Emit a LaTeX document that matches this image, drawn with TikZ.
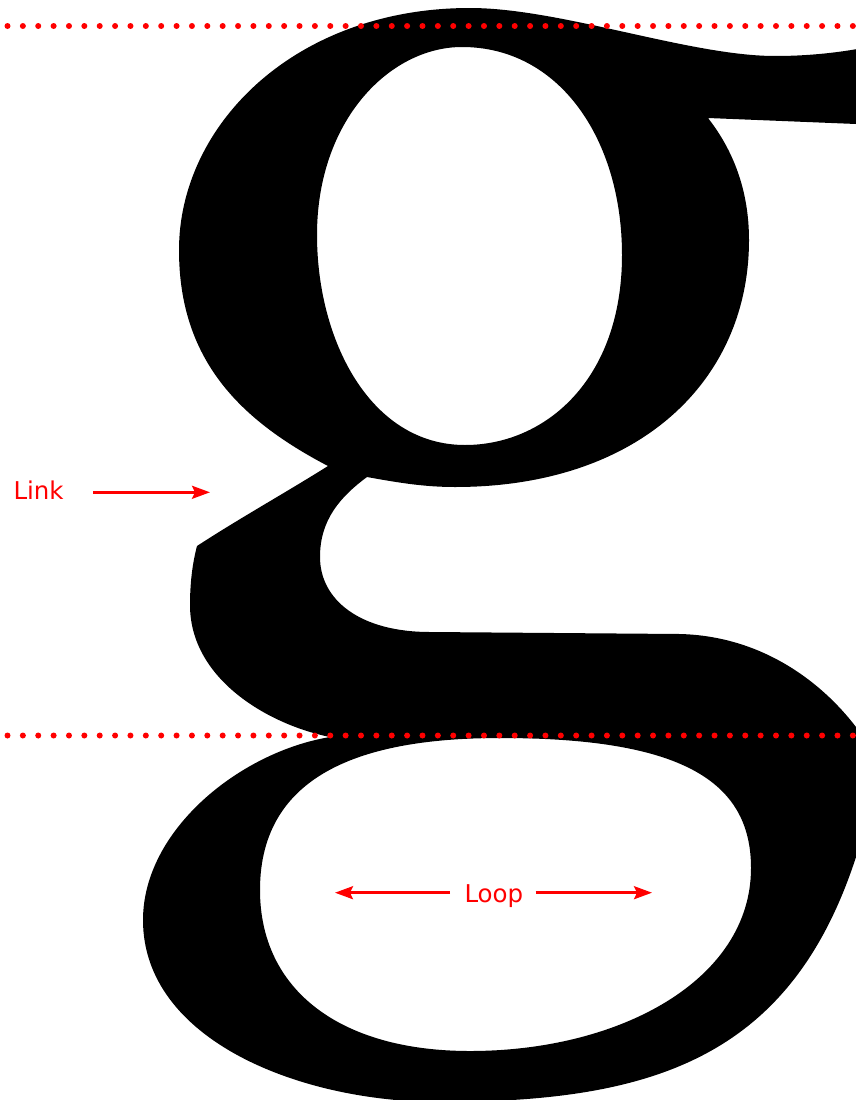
\documentclass[tikz,border=0pt]{standalone}
\usepackage{fontspec}
\setmainfont{DejaVu Sans}
\usetikzlibrary{arrows.meta}
\begin{document}
\begin{tikzpicture}[x=1pt,y=-1pt,
  glyph/.style={fill=black, even odd rule},
  guide/.style={draw=red, line width=6pt, line cap=round, dash pattern=on 0pt off 15.37pt},
  arr/.style={draw=red, line width=2.5pt, -{Stealth[length=18pt,width=13pt,inset=3pt]}},
  lbl/.style={text=red, font=\fontsize{24.5}{28}\selectfont, inner sep=0pt, anchor=base west}]
\useasboundingbox (0,0) rectangle (856,1100);
\begin{scope}
\clip (0,0) rectangle (856,1100);
\fill[glyph]
  % ear top and bowl outer left
  (900,40) .. controls (860,50) and (820,56) .. (775,56)
  .. controls (690,56) and (560,8) .. (470,8)
  .. controls (295,8) and (179,125) .. (179,250)
  .. controls (179,360) and (240,420) .. (328,466)
  % link upper edge
  .. controls (285,493) and (240,518) .. (197,546)
  .. controls (192,565) and (190,585) .. (190,605)
  .. controls (190,680) and (270,725) .. (330,737)
  % loop outer
  .. controls (240,752) and (143,830) .. (143,920)
  .. controls (143,1040) and (300,1102) .. (440,1102)
  .. controls (650,1102) and (790,1060) .. (856,857)
  .. controls (875,800) and (875,750) .. (856,727)
  % link bar upper edge
  .. controls (820,680) and (760,636) .. (680,634)
  -- (430,632)
  .. controls (360,632) and (320,600) .. (320,557)
  .. controls (320,520) and (340,497) .. (367,477)
  % bowl outer right
  .. controls (400,483) and (425,487) .. (455,487)
  .. controls (640,487) and (749,380) .. (749,240)
  .. controls (749,190) and (733,150) .. (708,118)
  -- (856,124) -- (900,126) -- cycle
  % upper counter
  (462,47) .. controls (560,47) and (622,140) .. (622,255)
  .. controls (622,380) and (545,445) .. (465,445)
  .. controls (370,445) and (317,340) .. (317,235)
  .. controls (317,120) and (390,47) .. (462,47) -- cycle
  % loop counter
  (500,738) .. controls (680,738) and (751,780) .. (751,868)
  .. controls (751,980) and (620,1051) .. (470,1051)
  .. controls (340,1051) and (260,990) .. (260,890)
  .. controls (260,770) and (370,738) .. (500,738) -- cycle;
\end{scope}
% guide lines
\coordinate (topA) at (7.5,26);
\coordinate (topB) at (870,26);
\coordinate (botA) at (7.5,735.5);
\coordinate (botB) at (870,735.5);
\draw[guide] (topA) -- (topB);
\draw[guide] (botA) -- (botB);
% labels
\node[lbl] (link) at (13.3,499) {Link};
\coordinate (linktip) at (210,492.3);
\draw[arr] ([xshift=29.5pt,yshift=6.7pt]link.base east) -- (linktip);
\node[lbl] (loop) at (464.3,902.7) {Loop};
\coordinate (lefttip) at (335,892.7);
\coordinate (righttip) at (652,892.7);
\draw[arr] ([xshift=-14.3pt,yshift=10pt]loop.base west) -- (lefttip);
\draw[arr] ([xshift=12.2pt,yshift=10pt]loop.base east) -- (righttip);
\end{tikzpicture}
\end{document}
